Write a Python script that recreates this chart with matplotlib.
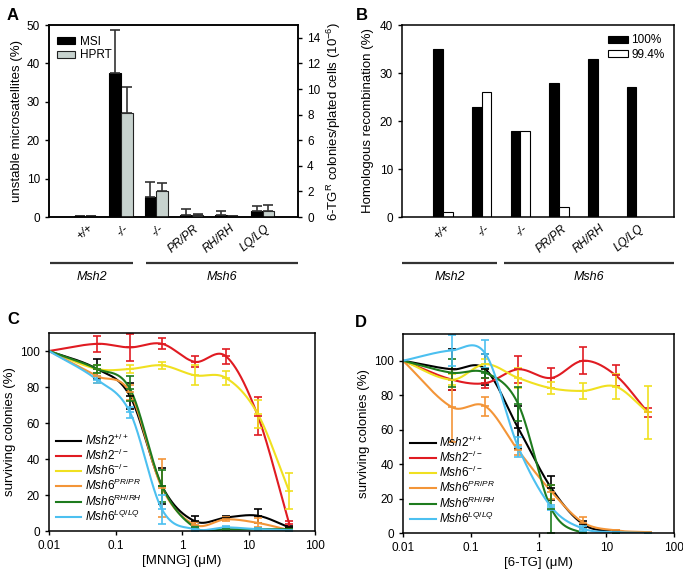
import numpy as np
import matplotlib
matplotlib.use("Agg")
import matplotlib.pyplot as plt
from matplotlib.transforms import blended_transform_factory

plt.rcParams['font.family'] = ['Liberation Sans', 'DejaVu Sans']
plt.rcParams['mathtext.fontset'] = 'custom'
plt.rcParams['mathtext.rm'] = 'Liberation Sans'
plt.rcParams['mathtext.it'] = 'Liberation Sans:italic'
plt.rcParams['mathtext.bf'] = 'Liberation Sans:bold'
plt.rcParams['axes.linewidth'] = 1.1

# ---------------- data ----------------
genotypes = ['+/+', '-/-', '-/-', 'PR/PR', 'RH/RH', 'LQ/LQ']

# Panel A
msi = [0.2, 37.5, 5.3, 0.6, 0.6, 1.5]
msi_err = [0.0, 11.2, 3.9, 1.4, 0.9, 1.3]
hprt = [0.05, 8.15, 2.05, 0.15, 0.05, 0.45]
hprt_err = [0.0, 2.0, 0.57, 0.07, 0.0, 0.45]

# Panel B
hr_100 = [35, 23, 18, 28, 33, 27]
hr_994 = [1, 26, 18, 2, 0, 0]

# Panels C and D
doses = [0.01, 0.053, 0.165, 0.5, 1.55, 4.6, 13.8, 41]
series_names = [r'$\mathit{Msh2}^{+/+}$', r'$\mathit{Msh2}^{-/-}$', r'$\mathit{Msh6}^{-/-}$',
                r'$\mathit{Msh6}^{PR/PR}$', r'$\mathit{Msh6}^{RH/RH}$', r'$\mathit{Msh6}^{LQ/LQ}$']
series_colors = ['#000000', '#e01b22', '#f0e020', '#f39538', '#1e7b1e', '#4cc0f0']

mnng_mean = {
    'Msh2+/+':    [100, 90, 75, 25, 5.5, 7.5, 8.5, 2],
    'Msh2-/-':    [100, 104, 102, 104, 94, 97, 64, 4],
    'Msh6-/-':    [100, 90, 90, 92, 86.5, 85, 65, 22],
    'Msh6PR/PR':  [100, 86, 77, 24, 3.5, 6.5, 4.5, 0.5],
    'Msh6RH/RH':  [100, 90, 79, 25, 2, 1, 1, 1],
    'Msh6LQ/LQ':  [100, 84, 66, 12, 1, 2, 1, 0.5],
}
mnng_err = {
    'Msh2+/+':    [0, 5.5, 7, 10, 2.8, 1, 4, 1],
    'Msh2-/-':    [0, 4.5, 7.5, 3, 3, 4, 10.5, 1.5],
    'Msh6-/-':    [0, 2, 2, 2, 5.5, 4, 8, 10],
    'Msh6PR/PR':  [0, 4, 4, 16, 1.5, 1.2, 2.5, 0.5],
    'Msh6RH/RH':  [0, 2, 7, 9, 1, 0.5, 0.5, 0.5],
    'Msh6LQ/LQ':  [0, 2, 3, 8, 1, 1, 0.5, 0.3],
}
tg_mean = {
    'Msh2+/+':    [100, 95, 95, 61, 26, 5, 1, 0],
    'Msh2-/-':    [100, 89, 87, 95, 90, 100, 91.5, 70],
    'Msh6-/-':    [100, 89, 98, 90, 84, 82.5, 85, 70],
    'Msh6PR/PR':  [100, 73, 73.5, 48, 24, 6, 1.5, 0.5],
    'Msh6RH/RH':  [100, 93, 93, 75, 14, 0, 0, 0],
    'Msh6LQ/LQ':  [100, 106, 104, 50, 15, 2.5, 0.5, 0],
}
tg_err = {
    'Msh2+/+':    [0, 12, 9, 12.5, 7, 2, 0.5, 0.3],
    'Msh2-/-':    [0, 6, 3, 8, 6, 8, 6, 2.7],
    'Msh6-/-':    [0, 3, 3, 6, 3.5, 4.5, 7, 15.5],
    'Msh6PR/PR':  [0, 20, 5.5, 3, 4, 3.5, 0.5, 0.3],
    'Msh6RH/RH':  [0, 8, 3, 10, 14, 0.3, 0.3, 0.3],
    'Msh6LQ/LQ':  [0, 9, 8, 6, 1.5, 1.5, 0.3, 0.3],
}
dose_ticks = [0.01, 0.1, 1, 10, 100]
dose_ticklabels = ['0.01', '0.1', '1', '10', '100']


def smooth(xs, ys, n=80):
    """Cardinal (Catmull-Rom style) Hermite curve through the points, in log-x."""
    lx = np.log10(np.asarray(xs, float))
    y = np.asarray(ys, float)
    m = np.empty_like(y)
    m[1:-1] = (y[2:] - y[:-2]) / (lx[2:] - lx[:-2])
    m[0] = (y[1] - y[0]) / (lx[1] - lx[0])
    m[-1] = (y[-1] - y[-2]) / (lx[-1] - lx[-2])
    X, Y = [], []
    t = np.linspace(0, 1, n)
    h00 = 2 * t**3 - 3 * t**2 + 1
    h10 = t**3 - 2 * t**2 + t
    h01 = -2 * t**3 + 3 * t**2
    h11 = t**3 - t**2
    for k in range(len(lx) - 1):
        h = lx[k + 1] - lx[k]
        X.append(lx[k] + t * h)
        Y.append(h00 * y[k] + h10 * h * m[k] + h01 * y[k + 1] + h11 * h * m[k + 1])
    return 10 ** np.concatenate(X), np.concatenate(Y)


W, H = 683, 579
fig = plt.figure(figsize=(W / 100, H / 100), dpi=100)


def px_axes(left, top, right, bottom):
    return fig.add_axes([left / W, 1 - bottom / H, (right - left) / W, (bottom - top) / H])


def genotype_brackets(ax, msh2_span, msh6_span):
    tr = blended_transform_factory(ax.transData, ax.transAxes)
    for (x0, x1), name in zip([msh2_span, msh6_span], ['Msh2', 'Msh6']):
        ax.plot([x0, x1], [-0.24, -0.24], color='#333333', lw=1.6, transform=tr, clip_on=False,
                solid_capstyle='butt')
        ax.text((x0 + x1) / 2, -0.31, name, style='italic', fontsize=9, ha='center', va='center',
                transform=tr)


def genotype_ticks(ax, x, width_shift):
    ax.set_xticks(np.array(x) + width_shift)
    ax.set_xticklabels(genotypes, rotation=40, ha='right', rotation_mode='anchor',
                       style='italic', fontsize=8.5)
    ax.tick_params(axis='x', length=0, pad=4)


# ---------------- Panel A ----------------
axA = px_axes(49, 25, 298, 217)
x = np.arange(len(genotypes))
bw = 0.33
axA.bar(x - bw / 2, msi, bw, color='black', edgecolor='black', lw=0.8, label='MSI')
axA.errorbar(x - bw / 2, msi, yerr=[np.zeros(len(msi)), msi_err], fmt='none', ecolor='#333333',
             elinewidth=1.2, capsize=3.5, capthick=1.2)
axA.set_xlim(-1.03, 6.0)
axA.set_ylim(0, 50)
axA.set_yticks([0, 10, 20, 30, 40, 50])
axA.set_ylabel('unstable microsatellites (%)', fontsize=9.5, labelpad=3)
axA.tick_params(axis='y', labelsize=8.5, length=3, width=1)
axA2 = axA.twinx()
axA2.bar(x + bw / 2, hprt, bw, color='#c7d2ce', edgecolor='#222222', lw=0.8, label='HPRT')
axA2.errorbar(x + bw / 2, hprt, yerr=[np.zeros(len(hprt)), hprt_err], fmt='none', ecolor='#333333',
              elinewidth=1.2, capsize=3.5, capthick=1.2)
axA2.set_ylim(0, 15)
axA2.set_yticks([0, 2, 4, 6, 8, 10, 12, 14])
axA2.tick_params(axis='y', labelsize=8.5, length=3, width=1)
axA2.set_ylabel(r'6-TG$^{\mathregular{R}}$ colonies/plated cells (10$^{\mathregular{-6}}$)',
                fontsize=9.5, labelpad=3)
genotype_ticks(axA, x, 0.05)
hA = [axA.patches[0], axA2.patches[0]]
axA.legend(hA, ['MSI', 'HPRT'], loc='upper left', bbox_to_anchor=(-0.01, 1.0), frameon=False,
           fontsize=8.5, handlelength=1.5, handleheight=0.55, handletextpad=0.4,
           labelspacing=0.15, borderaxespad=0.5)
genotype_brackets(axA, (-1.0, 1.34), (1.71, 6.0))
fig.text(7 / W, 1 - 15 / H, 'A', fontsize=12, fontweight='bold', va='center')

# ---------------- Panel B ----------------
axB = px_axes(402, 25, 674, 217)
bw2 = 0.25
axB.bar(x - bw2 / 2, hr_100, bw2, color='black', edgecolor='black', lw=0.8, label='100%')
axB.bar(x + bw2 / 2, hr_994, bw2, color='white', edgecolor='black', lw=0.8, label='99.4%')
axB.set_xlim(-1.06, 5.97)
axB.set_ylim(0, 40)
axB.set_yticks([0, 10, 20, 30, 40])
axB.set_ylabel('Homologous recombination (%)', fontsize=9.5, labelpad=4)
axB.tick_params(axis='y', labelsize=8.5, length=3, width=1)
genotype_ticks(axB, x, 0.05)
axB.legend(loc='upper right', frameon=False, fontsize=8.5, handlelength=1.7, handleheight=0.6,
           handletextpad=0.3, labelspacing=0.2, borderaxespad=0.4)
genotype_brackets(axB, (-1.05, 1.4), (1.58, 5.97))
fig.text(356 / W, 1 - 15 / H, 'B', fontsize=12, fontweight='bold', va='center')


# ---------------- Panels C, D ----------------
def survival(ax, means, errs, ymax, xlabel):
    handles = []
    for key, name, col in zip(means.keys(), series_names, series_colors):
        xs, ys = smooth(doses, means[key])
        ln, = ax.plot(xs, ys, color=col, lw=1.5, label=name)
        handles.append(ln)
        ax.errorbar(doses[1:], means[key][1:], yerr=errs[key][1:], fmt='_', color=col, ms=6,
                    mew=1.2, ecolor=col, elinewidth=1.2, capsize=3, capthick=1.2)
    ax.set_xscale('log')
    ax.set_xlim(0.01, 100)
    ax.set_ylim(0, ymax)
    ax.set_xticks(dose_ticks)
    ax.set_xticklabels(dose_ticklabels)
    ax.xaxis.set_minor_locator(matplotlib.ticker.NullLocator())
    ax.set_yticks([0, 20, 40, 60, 80, 100])
    ax.tick_params(labelsize=8.5, length=3, width=1)
    ax.set_ylabel('surviving colonies (%)', fontsize=9.5, labelpad=3)
    ax.set_xlabel(xlabel, fontsize=9.5, labelpad=2)
    ax.legend(handles, series_names, loc='lower left', bbox_to_anchor=(0.02, 0.03), frameon=False,
              fontsize=8.5, handlelength=2.2, handletextpad=0.3, labelspacing=0.0,
              borderaxespad=0.0, borderpad=0.1)


axC = px_axes(49, 333, 315, 531)
survival(axC, mnng_mean, mnng_err, 110, '[MNNG] (μM)')
fig.text(7 / W, 1 - 320 / H, 'C', fontsize=12, fontweight='bold', va='center')

axD = px_axes(403, 334, 674, 533)
survival(axD, tg_mean, tg_err, 115.5, '[6-TG] (μM)')
fig.text(355 / W, 1 - 322 / H, 'D', fontsize=12, fontweight='bold', va='center')

fig.savefig('out.png', dpi=100)
